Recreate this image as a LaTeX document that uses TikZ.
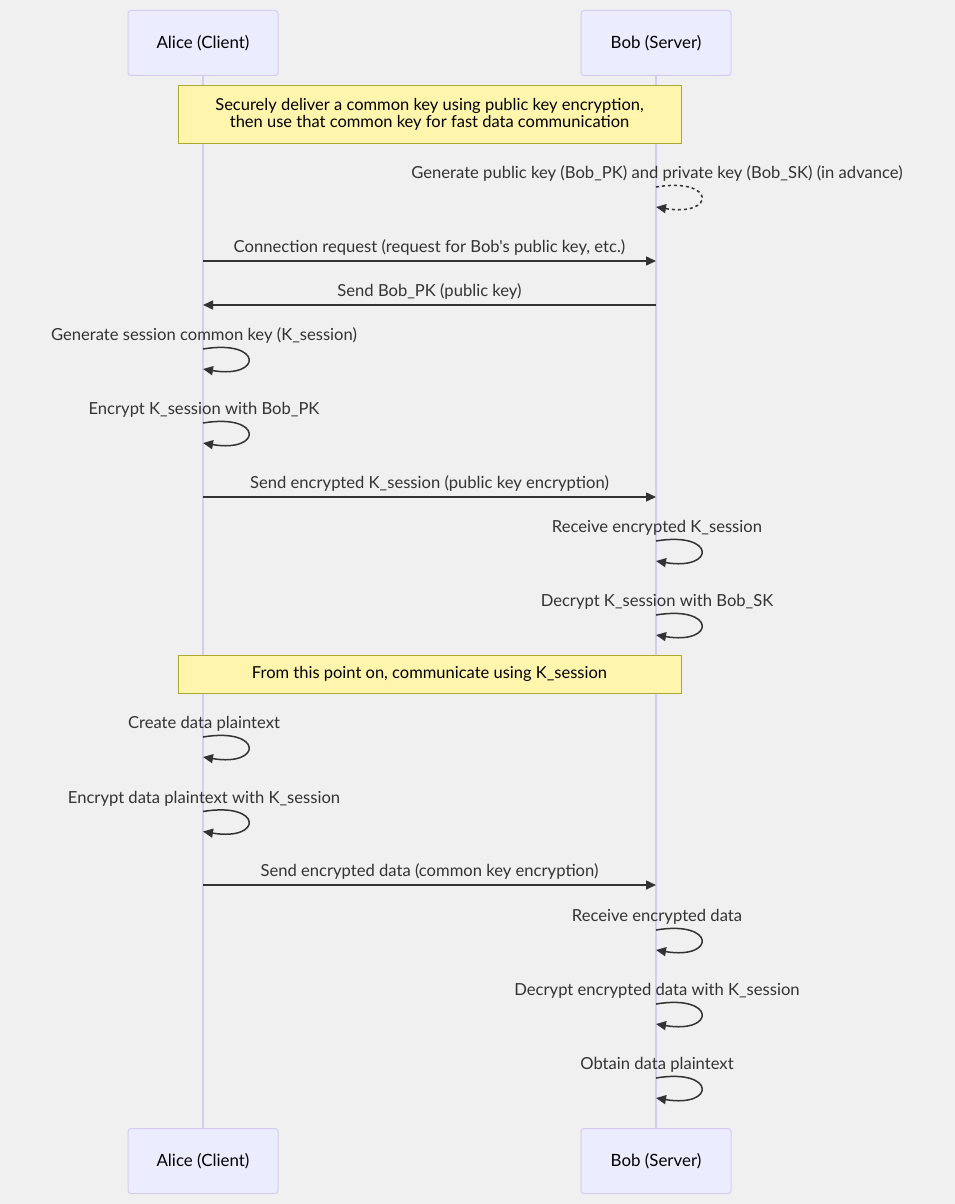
\documentclass[tikz,border=0pt]{standalone}
\usepackage{fontspec}
\setmainfont{Lato}[Ligatures=TeXOff]
\usetikzlibrary{arrows.meta}
\definecolor{bgc}{HTML}{F0F0F0}
\definecolor{actfill}{HTML}{ECECFF}
\definecolor{actline}{HTML}{D6CCF2}
\definecolor{notefill}{HTML}{FFF5AD}
\definecolor{noteline}{HTML}{AAAA33}
\definecolor{ink}{HTML}{333333}
\tikzset{
  actor/.style={draw=actline, fill=actfill, line width=1pt, rounded corners=3pt,
    minimum width=150pt, minimum height=65pt, inner sep=0pt, text=black,
    font=\fontsize{16.9}{18}\selectfont},
  life/.style={draw=actline, line width=1.5pt},
  notebox/.style={draw=noteline, fill=notefill, line width=1pt, minimum width=503pt,
    inner sep=0pt, align=center, text=black, font=\fontsize{16.5}{17.5}\selectfont},
  msg/.style={draw=ink, line width=1.5pt, -{Triangle[length=10pt,width=9pt]}},
  dmsg/.style={msg, dash pattern=on 3pt off 3pt},
  lbl/.style={anchor=base, inner sep=0pt, text=ink, font=\fontsize{16.6}{18}\selectfont},
}
\begin{document}
\begin{tikzpicture}[x=1pt,y=-1pt]
\fill[bgc] (0,0) rectangle (955,1204);
\useasboundingbox (0,0) rectangle (955,1204);

% actors and lifelines
\node[actor] (at) at (203,43) {Alice (Client)};
\node[actor] (bt) at (656,43) {Bob (Server)};
\node[actor] (ab) at (203,1161) {Alice (Client)};
\node[actor] (bb) at (656,1161) {Bob (Server)};
\draw[life] (at.south) -- (ab.north);
\draw[life] (bt.south) -- (bb.north);

% note 1
\node[notebox, minimum height=58pt] (n1) at (429.5,114.5) {Securely deliver a common key using public key encryption,\\then use that common key for fast data communication};

% self loop Bob dashed
\node[lbl] (l1) at (657,178) {Generate public key (Bob\_PK) and private key (Bob\_SK) (in advance)};
\coordinate (s1) at (656,187); \coordinate (e1) at (656,207);
\draw[dmsg] (s1) .. controls +(60,-10) and +(60,10) .. (e1);

% message A->B
\node[lbl] (l2) at (429.5,252) {Connection request (request for Bob's public key, etc.)};
\coordinate (s2) at (203,261); \coordinate (e2) at (656,261);
\draw[msg] (s2) -- (e2);

% message B->A
\node[lbl] (l3) at (429.5,296) {Send Bob\_PK (public key)};
\coordinate (s3) at (656,305); \coordinate (e3) at (203,305);
\draw[msg] (s3) -- (e3);

% Alice self
\node[lbl] (l4) at (204,340.5) {Generate session common key (K\_session)};
\coordinate (s4) at (203,349); \coordinate (e4) at (203,369);
\draw[msg] (s4) .. controls +(60,-10) and +(60,10) .. (e4);

\node[lbl] (l5) at (204,414.5) {Encrypt K\_session with Bob\_PK};
\coordinate (s5) at (203,423); \coordinate (e5) at (203,443);
\draw[msg] (s5) .. controls +(60,-10) and +(60,10) .. (e5);

% message A->B
\node[lbl] (l6) at (429.5,488) {Send encrypted K\_session (public key encryption)};
\coordinate (s6) at (203,497); \coordinate (e6) at (656,497);
\draw[msg] (s6) -- (e6);

% Bob self
\node[lbl] (l7) at (657,532.5) {Receive encrypted K\_session};
\coordinate (s7) at (656,541); \coordinate (e7) at (656,561);
\draw[msg] (s7) .. controls +(60,-10) and +(60,10) .. (e7);

\node[lbl] (l8) at (657,606.5) {Decrypt K\_session with Bob\_SK};
\coordinate (s8) at (656,615); \coordinate (e8) at (656,635);
\draw[msg] (s8) .. controls +(60,-10) and +(60,10) .. (e8);

% note 2
\node[notebox, minimum height=38pt] (n2) at (429.5,674) {From this point on, communicate using K\_session};

% Alice self
\node[lbl] (l9) at (204,728.5) {Create data plaintext};
\coordinate (s9) at (203,737); \coordinate (e9) at (203,757);
\draw[msg] (s9) .. controls +(60,-10) and +(60,10) .. (e9);

\node[lbl] (l10) at (204,803) {Encrypt data plaintext with K\_session};
\coordinate (s10) at (203,811.5); \coordinate (e10) at (203,831.5);
\draw[msg] (s10) .. controls +(60,-10) and +(60,10) .. (e10);

% message A->B
\node[lbl] (l11) at (429.5,876.5) {Send encrypted data (common key encryption)};
\coordinate (s11) at (203,885); \coordinate (e11) at (656,885);
\draw[msg] (s11) -- (e11);

% Bob self
\node[lbl] (l12) at (657,921.5) {Receive encrypted data};
\coordinate (s12) at (656,930); \coordinate (e12) at (656,950);
\draw[msg] (s12) .. controls +(60,-10) and +(60,10) .. (e12);

\node[lbl] (l13) at (657,995.5) {Decrypt encrypted data with K\_session};
\coordinate (s13) at (656,1004); \coordinate (e13) at (656,1024);
\draw[msg] (s13) .. controls +(60,-10) and +(60,10) .. (e13);

\node[lbl] (l14) at (657,1069.5) {Obtain data plaintext};
\coordinate (s14) at (656,1078); \coordinate (e14) at (656,1098);
\draw[msg] (s14) .. controls +(60,-10) and +(60,10) .. (e14);
\end{tikzpicture}
\end{document}
